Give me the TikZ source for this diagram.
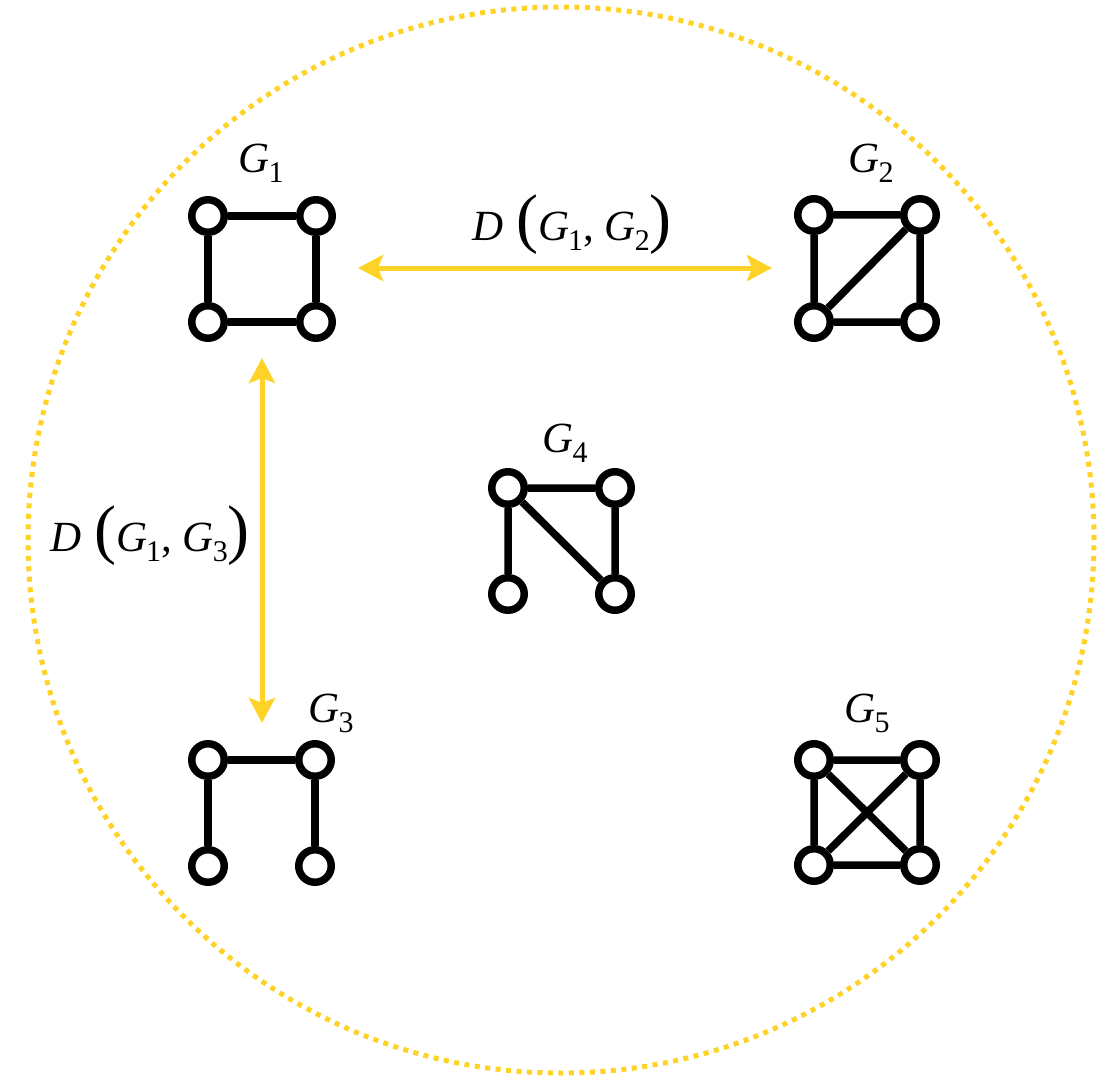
\documentclass[tikz,border=0pt]{standalone}
\usepackage{fontspec}
\setmainfont{Liberation Serif}
\usetikzlibrary{arrows.meta}
\definecolor{gold}{RGB}{255,210,40}
\newcommand{\Gs}[1]{\textit{G}\kern-0.02em\raisebox{-5pt}{\fontsize{15}{15}\selectfont #1}}
\newcommand{\BigP}[1]{{\fontsize{33}{33}\selectfont #1}}
\newcommand{\Dist}[2]{\textit{D}\hspace{0.3em}\BigP{(}\Gs{#1},\hspace{0.25em}\Gs{#2}\BigP{)}}
\begin{document}
\begin{tikzpicture}[x=0.5pt,y=-0.5pt,
  vtx/.style={circle,draw=black,fill=white,line width=3.75pt,minimum size=16.25pt,inner sep=0pt},
  edge/.style={line width=3.75pt,black},
  lbl/.style={anchor=base,inner sep=0pt,font=\fontsize{21.5}{25}\selectfont},
  dist/.style={gold,line width=2.5pt,{Stealth[length=12.5pt,width=13pt,inset=2.5pt]}-{Stealth[length=12.5pt,width=13pt,inset=2.5pt]}}]
\useasboundingbox (0,0) rectangle (1115,1081);
% enclosing dotted circle
\draw[gold,line width=2.5pt,dash pattern=on 2.5pt off 2.75pt] (561,540) circle[radius=266.5pt];

% G1
\node[vtx] (g1a) at (208,216) {};
\node[vtx] (g1b) at (316,216) {};
\node[vtx] (g1c) at (208,322) {};
\node[vtx] (g1d) at (316,322) {};
\draw[edge] (g1a) -- (g1b) (g1a) -- (g1c) (g1b) -- (g1d) (g1c) -- (g1d);
\node[lbl] (l1) at (261,173) {\Gs{1}};

% G2
\node[vtx] (g2a) at (814,215) {};
\node[vtx] (g2b) at (920,215) {};
\node[vtx] (g2c) at (814,322) {};
\node[vtx] (g2d) at (920,322) {};
\draw[edge] (g2a) -- (g2b) (g2a) -- (g2c) (g2b) -- (g2d) (g2c) -- (g2d) (g2c) -- (g2b);
\node[lbl] (l2) at (871,173) {\Gs{2}};

% G3
\node[vtx] (g3a) at (208,760) {};
\node[vtx] (g3b) at (315,760) {};
\node[vtx] (g3c) at (208,866) {};
\node[vtx] (g3d) at (315,866) {};
\draw[edge] (g3a) -- (g3b) (g3a) -- (g3c) (g3b) -- (g3d);
\node[lbl] (l3) at (331,722) {\Gs{3}};

% G4
\node[vtx] (g4a) at (508,488) {};
\node[vtx] (g4b) at (615,488) {};
\node[vtx] (g4c) at (508,594) {};
\node[vtx] (g4d) at (615,594) {};
\draw[edge] (g4a) -- (g4b) (g4a) -- (g4c) (g4b) -- (g4d) (g4a) -- (g4d);
\node[lbl] (l4) at (565,452) {\Gs{4}};

% G5
\node[vtx] (g5a) at (814,760) {};
\node[vtx] (g5b) at (920,760) {};
\node[vtx] (g5c) at (814,865) {};
\node[vtx] (g5d) at (920,865) {};
\draw[edge] (g5a) -- (g5b) (g5a) -- (g5c) (g5b) -- (g5d) (g5c) -- (g5d) (g5a) -- (g5d) (g5b) -- (g5c);
\node[lbl] (l5) at (867,722) {\Gs{5}};

% distance arrows
\coordinate (h1) at (358,268);
\coordinate (h2) at (772,268);
\coordinate (v1) at (262,358);
\coordinate (v3) at (262,723);
\draw[dist] (h1) -- (h2);
\draw[dist] (v1) -- (v3);
\node[lbl] (d12) at (572,241) {\Dist{1}{2}};
\node[lbl] (d13) at (150,551) {\Dist{1}{3}};
\end{tikzpicture}
\end{document}
